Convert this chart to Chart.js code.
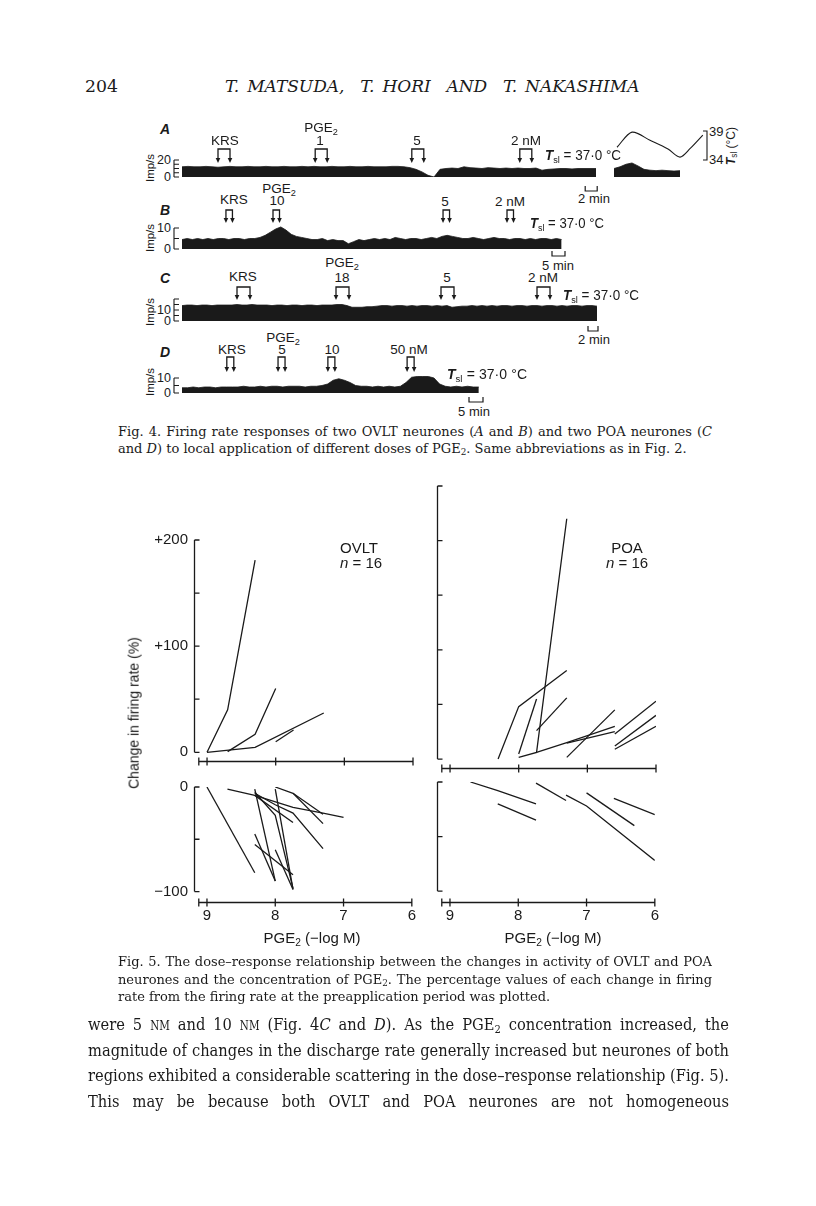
<!DOCTYPE html>
<html><head><meta charset="utf-8">
<script src="https://cdn.jsdelivr.net/npm/chart.js@4.4.1/dist/chart.umd.min.js"></script>
<style>
html,body{margin:0;padding:0;background:#fff}
body{width:816px;height:1206px;position:relative;overflow:hidden;color:#1a1a1a}
.t{position:absolute;white-space:nowrap;line-height:1.2}
canvas{position:absolute}
sub{font-size:68%;vertical-align:-0.28em;line-height:0}
.sc{font-variant:small-caps}
#ann{position:absolute;left:0;top:0;pointer-events:none;z-index:5}
</style></head><body>
<svg id="ann" width="816" height="1206"></svg>
<script>
// ---------------- DATA ----------------
// Fig. 5 : dose (-log M) vs change in firing rate (%)
const doseTicks = [9, 8, 7, 6];
const ovltIncrease = [
  [[9.0,0],[8.7,40],[8.3,181]],
  [[8.7,0.6],[8.3,17],[8.0,60]],
  [[9.0,0],[8.3,4.6],[7.3,37]],
  [[8.0,10],[7.74,21]]
];
const ovltDecrease = [
  [[9.0,0],[8.3,-82]],
  [[8.7,-2],[8.3,-8],[7.74,-19.5],[7.3,-25],[7.0,-29]],
  [[8.3,-2],[8.0,-90]],
  [[8.3,-5],[8.0,-27],[7.74,-97]],
  [[8.3,-8],[7.74,-34]],
  [[8.3,-6],[8.0,-17],[7.74,-25],[7.3,-59]],
  [[8.0,0],[7.74,-6],[7.3,-26]],
  [[7.74,-6],[7.3,-35]],
  [[8.0,-2],[7.74,-98]],
  [[8.3,-45],[8.0,-90]],
  [[8.3,-55],[7.74,-84]],
  [[8.0,-60],[7.74,-98]]
];
const poaIncrease = [
  [[8.3,0],[8.0,48],[7.3,81]],
  [[8.0,4.6],[7.74,55]],
  [[8.0,1.5],[7.74,6],[7.3,220]],
  [[7.74,6],[7.3,15],[6.6,30]],
  [[7.3,14.5],[6.6,25]],
  [[7.74,26],[7.3,56]],
  [[7.3,1.5],[6.6,45]],
  [[6.6,23],[6.0,53]],
  [[6.6,12],[6.0,40]],
  [[6.6,9],[6.0,30]]
];
const poaDecrease = [
  [[8.7,0],[8.3,-8],[7.74,-20]],
  [[8.3,-20],[7.74,-35]],
  [[7.74,-1],[7.3,-17]],
  [[7.3,-12],[7.0,-22],[6.0,-72]],
  [[7.0,-10],[6.3,-40]],
  [[6.6,-15],[6.0,-30]]
];
const upperTicks = [0,50,100,150,200];
const upperTicksPOA = [0,50,100,150,200,250];
const lowerTicks = [0,-50,-100];

// Fig. 4 : firing rate traces (Imp/s), sampled in minutes
const traceA1 = [12,12.5,12,12,12.5,12,11.5,12,12.5,12, 12,12.5,12,12,12.5,12,12,12.5,12,12,
  12.5,12,12.5,12,12,12.5,12,12,12.5,12, 12,12.5,12,12,12,12.5,12.5,12,11,9,
  6,2,0,9,10,10.5,10,12,11,10.5, 10,11,10.5,10,10.5,10,10.5,10,10,10.5,
  8,9,9.5,10,10,9.5,10,10,10,10];            // t = 0..69, 1 min
const traceA2 = [10,12,15,16.5,13,9,8,7.5,8,7.5,7,7.5]; // t = 72..83
const tempATimes = [72.5,75,78,81,83,84.7,86.8];
const tempAValues = [36.2,38.8,37.4,35.9,34.5,36.0,38.3]; // °C
const traceB = [4.5,5,4.5,5,4.5,5,4.5,5,5,4.5,5,5,4.5,5,5,
  5.5,6.5,8,9.5,10.5,9,7,6,5.5,5,
  4.5,4.5,5,4,4.5,4,4,
  2.5,3.5,4.5,4,
  4.5,5,4.5,5,4.5,5.5,5,4.5,5,5,4.5,5,5.5,5,
  6,6.5,6,5.5,
  5,5,5.5,5,4.5,5,5.5,5,5,4.5,5,5,4.5,5,4.5,5,5,4.5,5,4.5]; // t = 0..146, 2 min
const traceC = [14,14.5,14.5,14,14.5,14.5,14,14.5,14.5,14.5,
  14.5,15,14.5,14.5,15,14.5,14.5,14.5,14,14.5,
  14.5,14,14.5,14.5,14,14.5,14.5,14,14.5,14.5,
  14.5,15,15,14,12.5,12.5,12.5,13,13,13.5,
  14,14,13.5,14,14,13.5,14,13.5,14,14,
  13.5,14,13.5,14,12.5,13,13.5,13.5,14,13.5,
  14,13.5,14,13.5,14,14,13.5,14,14,13.5,
  14,14,13.5,14,14,13.5,14,13.5,14,14,
  13.5,14,14,13.5];                          // t = 0..83, 1 min
const traceD = [3.5,3.5,4,3.5,4,4,3.5,4,4,4,
  4,4.5,4,4,4.5,4,4.5,4.5,4,4.5,
  4.5,4.5,4,4.5,4.5,5,6,
  8.5,9.5,8.5,7,5,
  4.5,4.5,4,4.5,4,4.5,4,4.5,
  7,10.5,11,11,11,10,6,
  4.5,4,4.5,4,4.5,4,4];                      // t = 0..106, 2 min
const appA = [6,22.2,38.3,56.3];
const appB = [16.9,35,100.4,125];
const appC = [11,30.8,51.8,71];
const appD = [16,34.3,52.1,80.4];

// ---------------- HELPERS ----------------
const SANS='"Liberation Sans", Arial, Helvetica, sans-serif';
const SERIF='"DejaVu Serif", "Liberation Serif", serif';
const INK='#1a1a1a';
Chart.defaults.font.family=SANS;
Chart.defaults.color=INK;

function mkDiv(html,x,y,o){
  const d=document.createElement('div');
  d.className='t';
  d.innerHTML=html;
  const size=o.size||13;
  d.style.fontSize=size+'px';
  d.style.fontFamily=o.font||SANS;
  if(o.italic) d.style.fontStyle='italic';
  if(o.bold) d.style.fontWeight='bold';
  d.style.left=x+'px';
  d.style.top=(y-0.6*size)+'px';
  document.body.appendChild(d);
  return d;
}
function txt(html,x,y,o={}){
  const d=mkDiv(html,x,y,o);
  const w=d.getBoundingClientRect().width;
  let tf='';
  if(o.width){
    const extra=o.width-w;
    const spaces=(d.textContent.match(/ /g)||[]).length;
    if(extra>0 && spaces>0){ d.style.wordSpacing=(extra/spaces)+'px'; }
    else { d.style.transformOrigin='0 0'; tf='scaleX('+(o.width/w)+')'; }
  } else {
    if(o.anchor==='c') tf='translateX(-50%)';
    if(o.anchor==='r') tf='translateX(-100%)';
  }
  d.style.transform=tf;
  return d;
}
// a justified paragraph: same horizontal scale for every line
function block(lines,x,ys,widths,o){
  const els=lines.map((h,i)=>mkDiv(h,x,ys[i],o));
  const nat=els.map(e=>e.getBoundingClientRect().width);
  let s=1;
  els.forEach((e,i)=>{ if(widths[i]) s=Math.min(s,widths[i]/nat[i]); });
  els.forEach((e,i)=>{
    e.style.transformOrigin='0 0';
    e.style.transform='scaleX('+s+')';
    if(widths[i]){
      const spaces=(e.textContent.match(/ /g)||[]).length;
      e.style.wordSpacing=((widths[i]/s-nat[i])/spaces)+'px';
    }
  });
}
function vtxt(html,cx,cy,o={}){
  const d=document.createElement('div');
  d.className='t';
  d.innerHTML=html;
  d.style.fontSize=(o.size||13)+'px';
  d.style.fontFamily=o.font||SANS;
  d.style.left=cx+'px'; d.style.top=cy+'px';
  d.style.transform='translate(-50%,-50%) rotate(-90deg)';
  document.body.appendChild(d);
  return d;
}
const svg=document.getElementById('ann');
function sEl(tag,attrs){const e=document.createElementNS('http://www.w3.org/2000/svg',tag);for(const k in attrs)e.setAttribute(k,attrs[k]);svg.appendChild(e);return e;}
function sPath(d,w){return sEl('path',{d,fill:'none',stroke:INK,'stroke-width':w||1.2});}
function arrows(x1,x2,y1,y2){
  sPath(`M${x1} ${y2-3} V${y1} H${x2} V${y2-3}`,1.3);
  [x1,x2].forEach(x=>sEl('path',{d:`M${x-2.3} ${y2-5} L${x+2.3} ${y2-5} L${x} ${y2} Z`,fill:INK}));
}
function mkCanvas(L,T,W,H){
  const c=document.createElement('canvas');
  c.width=W;c.height=H;
  c.style.left=L+'px';c.style.top=T+'px';c.style.width=W+'px';c.style.height=H+'px';
  document.body.appendChild(c);
  return c;
}

// ---------------- FIG 5 PANELS ----------------
const axisPlugin={id:'paperAxes',afterDraw(chart,args,o){
  const {ctx,chartArea:a,scales:{x,y}}=chart;
  ctx.save();ctx.strokeStyle=INK;ctx.lineWidth=1.3;
  const ax=Math.round(a.left)+0.5;
  ctx.beginPath();
  ctx.moveTo(ax,y.getPixelForValue(o.yTop));ctx.lineTo(ax,y.getPixelForValue(o.yBot));
  o.yTicks.forEach(v=>{const p=y.getPixelForValue(v);ctx.moveTo(ax,p);ctx.lineTo(ax+5,p);});
  const by=Math.round(a.bottom)+0.5;
  ctx.moveTo(x.getPixelForValue(9.12),by);ctx.lineTo(x.getPixelForValue(6),by);
  [9.12].concat(doseTicks).forEach(v=>{const p=x.getPixelForValue(v);ctx.moveTo(p,by-4);ctx.lineTo(p,by+4);});
  ctx.stroke();ctx.restore();
}};
function panel(o){
  const c=mkCanvas(o.L,o.T,o.W,o.H);
  return new Chart(c,{
    type:'line',
    data:{datasets:o.lines.map(l=>({data:l.map(p=>({x:p[0],y:p[1]})),borderColor:INK,borderWidth:1.3,pointRadius:0,fill:false,tension:0}))},
    options:{
      responsive:false,animation:false,devicePixelRatio:1,
      layout:{padding:{top:o.pt,right:o.pr,left:o.pl||0,bottom:0}},
      plugins:{legend:{display:false},tooltip:{enabled:false},paperAxes:o.axes},
      scales:{
        x:{type:'linear',min:6,max:9.19,reverse:true,display:true,
           afterFit:s=>{s.height=o.xh;},
           afterBuildTicks:s=>{s.ticks=doseTicks.map(v=>({value:v}));},
           ticks:{display:o.showX,font:{size:15,family:SANS},color:INK,padding:5,maxRotation:0,autoSkip:false,callback:v=>String(v)},
           grid:{display:false,drawTicks:false},border:{display:false}},
        y:{type:'linear',min:o.ymin,max:o.ymax,display:o.showY,
           afterFit:s=>{s.width=o.yw;},
           afterBuildTicks:s=>{s.ticks=Object.keys(o.ylabels||{}).map(v=>({value:+v}));},
           ticks:{font:{size:15,family:SANS},color:INK,padding:6,autoSkip:false,callback:v=>o.ylabels[String(v)]},
           grid:{display:false,drawTicks:false},border:{display:false}}
      }
    },
    plugins:[axisPlugin]
  });
}
panel({L:110,T:525,W:311,H:251,pt:15,pr:8,yw:84,xh:8,ymin:-8.2,ymax:200,showY:true,showX:false,
  ylabels:{'200':'+200','100':'+100','0':'0'},lines:ovltIncrease,
  axes:{yTop:200,yBot:0,yTicks:upperTicks}});
panel({L:431,T:476,W:233,H:300,pt:10,pr:8,pl:6,yw:0,xh:8,ymin:-8.2,ymax:250,showY:false,showX:false,
  ylabels:{},lines:poaIncrease,axes:{yTop:250,yBot:0,yTicks:upperTicksPOA}});
panel({L:110,T:772,W:311,H:160,pt:10,pr:8,yw:84,xh:30,ymin:-110,ymax:0,showY:true,showX:true,
  ylabels:{'0':'0','-100':'−100'},lines:ovltDecrease,axes:{yTop:0,yBot:-100,yTicks:lowerTicks}});
panel({L:431,T:772,W:233,H:160,pt:10,pr:8,pl:6,yw:0,xh:30,ymin:-110,ymax:0,showY:false,showX:true,
  ylabels:{},lines:poaDecrease,axes:{yTop:0,yBot:-100,yTicks:lowerTicks}});

txt('OVLT',359,548,{size:15,anchor:'c'});
txt('<i>n</i> = 16',361,563,{size:15,anchor:'c'});
txt('POA',627,548,{size:15,anchor:'c'});
txt('<i>n</i> = 16',627,563,{size:15,anchor:'c'});
vtxt('Change in firing rate (%)',134,713,{size:14});
txt('PGE<sub>2</sub> (−log M)',312,938,{size:15,anchor:'c'});
txt('PGE<sub>2</sub> (−log M)',553,938,{size:15,anchor:'c'});

// ---------------- FIG 4 TRACES ----------------
function series(vals,t0,step){return vals.map((v,i)=>({x:t0+i*step,y:v}));}
function traceChart(o){
  const c=mkCanvas(o.L,o.T,o.W,o.H);
  const ds=o.series.map(s=>({data:s,borderColor:INK,borderWidth:0.8,backgroundColor:INK,fill:'origin',pointRadius:0,tension:0}));
  const scales={x:{type:'linear',min:0,max:o.xmax,display:false},y:{type:'linear',min:0,max:o.ymax,display:false}};
  if(o.temp){
    ds.push({data:o.temp,yAxisID:'yT',borderColor:INK,borderWidth:1.1,fill:false,pointRadius:0,tension:0.3,clip:false});
    scales.yT={type:'linear',min:o.tmin,max:o.tmax,display:false};
  }
  const ch=new Chart(c,{type:'line',data:{datasets:ds},
    options:{responsive:false,animation:false,devicePixelRatio:1,layout:{padding:0},
      plugins:{legend:{display:false},tooltip:{enabled:false}},scales}});
  const L=o.L,T=o.T,x=ch.scales.x,y=ch.scales.y;
  const bx=L-8;
  let d=`M${bx} ${T+y.getPixelForValue(o.ticks[0])} V${T+y.getPixelForValue(o.ticks[o.ticks.length-1])}`;
  o.ticks.forEach(v=>{const p=T+y.getPixelForValue(v);d+=` M${bx} ${p} H${bx+5}`;});
  sPath(d,1.1);
  Object.entries(o.labels).forEach(([v,s])=>txt(s,L-11,T+y.getPixelForValue(+v),{size:12.5,anchor:'r'}));
  const xe=L+x.getPixelForValue(o.barEnd),xs=L+x.getPixelForValue(o.barEnd-o.barLen);
  sPath(`M${xs} ${o.barY-5} V${o.barY} H${xe} V${o.barY-5}`,1.2);
  txt(o.barText,o.barTX,o.barTY,{size:13,anchor:'c'});
  o.apps.forEach(t=>arrows(L+x.getPixelForValue(t),L+x.getPixelForValue(t+o.dur),o.ay1,o.ay2));
  return ch;
}
const chA=traceChart({L:182,T:131,W:523,H:46,xmax:523/6,ymax:46/0.85,
  series:[series(traceA1,0,1),series(traceA2,72,1)],
  temp:tempATimes.map((t,i)=>({x:t,y:tempAValues[i]})),tmin:34-17/5.8,tmax:39,
  ticks:[0,5,10,15,20],labels:{'20':'20','0':'0'},
  barEnd:69.2,barLen:2,barY:191,barText:'2 min',barTX:594,barTY:199,
  apps:appA,dur:2,ay1:149,ay2:163});
(function(){
  const yT=chA.scales.yT,T=131;
  const y39=T+yT.getPixelForValue(39),y34=T+yT.getPixelForValue(34);
  sPath(`M703 ${y39} H707 V${y34} H703`,1.1);
  txt('39',709,y39+1,{size:13});
  txt('34',709,y34,{size:13});
  vtxt('<i><b>T</b></i><sub>sl</sub> (°C)',731,146,{size:12});
})();
traceChart({L:182,T:220,W:383,H:29,xmax:383/2.6,ymax:29/2.1,
  series:[series(traceB,0,2)],ticks:[0,5,10],labels:{'10':'10','0':'0'},
  barEnd:383/2.6,barLen:5,barY:256,barText:'5 min',barTX:558,barTY:266,
  apps:appB,dur:2.5,ay1:210,ay2:223});
traceChart({L:182,T:298,W:416,H:23,xmax:416/5,ymax:23/1.1,
  series:[series(traceC,0,1)],ticks:[0,5,10,15,20],labels:{'10':'10','0':'0'},
  barEnd:416/5,barLen:2,barY:331,barText:'2 min',barTX:594,barTY:340,
  apps:appC,dur:2.6,ay1:287,ay2:300});
traceChart({L:182,T:370,W:301,H:23,xmax:301/2.8,ymax:23/1.5,
  series:[series(traceD,0,2)],ticks:[0,5,10],labels:{'10':'10','0':'0'},
  barEnd:301/2.8,barLen:5,barY:402,barText:'5 min',barTX:474,barTY:412,
  apps:appD,dur:2.5,ay1:357,ay2:372});

const LB={size:14,italic:true,bold:true,anchor:'c'};
txt('A',165,129,LB);txt('B',165,210,LB);txt('C',165,278,LB);txt('D',165,352,LB);
[168,238,312,382].forEach(y=>vtxt('Imp/s',151,y,{size:11.5}));
const F={size:13.5,anchor:'c'};
txt('KRS',225,141,F);txt('PGE<sub>2</sub>',321,128,F);txt('1',320,141,F);txt('5',417,141,F);txt('2 nM',526,141,F);
txt('KRS',234,200,F);txt('PGE<sub>2</sub>',279,189,F);txt('10',277,201,F);txt('5',445,202,F);txt('2 nM',510,202,F);
txt('KRS',243,277,F);txt('PGE<sub>2</sub>',342,263,F);txt('18',342,278,F);txt('5',447,278,F);txt('2 nM',543,278,F);
txt('KRS',232,350,F);txt('PGE<sub>2</sub>',283,338,F);txt('5',282,350,F);txt('10',332,350,F);txt('50 nM',409,350,F);
const TS='<i><b>T</b></i><sub>sl</sub> = 37·0 °C';
txt(TS,545,155,{size:14,width:76});
txt(TS,530,223,{size:14,width:74});
txt(TS,563,295,{size:14,width:76});
txt(TS,447,374,{size:14,width:80});

// ---------------- PAGE TEXT ----------------
txt('204',85,86,{size:17,font:SERIF,width:33});
txt('T. MATSUDA,&nbsp; T. HORI&nbsp; AND&nbsp; T. NAKASHIMA',225,86,{size:17,font:SERIF,italic:true,width:407});
const CAP={size:13,font:SERIF};
block(['Fig. 4. Firing rate responses of two OVLT neurones (<i>A</i> and <i>B</i>) and two POA neurones (<i>C</i>',
       'and <i>D</i>) to local application of different doses of PGE<sub>2</sub>. Same abbreviations as in Fig. 2.'],
      118,[432,449],[594,null],CAP);
block(['Fig. 5. The dose–response relationship between the changes in activity of OVLT and POA',
       'neurones and the concentration of PGE<sub>2</sub>. The percentage values of each change in firing',
       'rate from the firing rate at the preapplication period was plotted.'],
      118,[962,980,997],[594,594,null],CAP);
block(['were 5 <span class="sc">nm</span> and 10 <span class="sc">nm</span> (Fig. 4<i>C</i> and <i>D</i>). As the PGE<sub>2</sub> concentration increased, the',
       'magnitude of changes in the discharge rate generally increased but neurones of both',
       'regions exhibited a considerable scattering in the dose–response relationship (Fig. 5).',
       'This may be because both OVLT and POA neurones are not homogeneous'],
      88,[1024,1050,1075,1101],[641,641,641,641],{size:17,font:SERIF});
</script>
</body></html>
